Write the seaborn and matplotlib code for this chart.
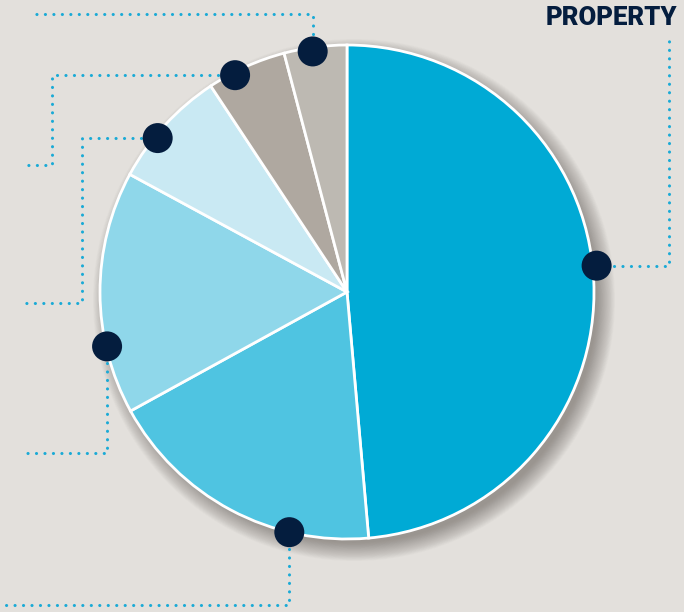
import numpy as np
import matplotlib
matplotlib.use("Agg")
import matplotlib.pyplot as plt
from matplotlib.patches import Circle
import seaborn as sns

# Data (share of portfolio, clockwise from 12 o'clock)
segments = ["Property", "Segment B", "Segment C", "Segment D", "Segment E", "Segment F"]
shares = [48.6, 18.4, 15.9, 7.8, 5.2, 4.1]
colors = ["#00aad5", "#4fc4e1", "#8fd7ea", "#c9e9f3", "#afa8a0", "#bdb9b2"]

# where along each wedge the callout dot sits (fraction of wedge, from its start)
dot_frac = [0.48, 0.28, 0.28, 0.38, 0.33, 0.45]
dot_r = [251, 247, 246, 244, 244, 243]

bg = "#e3e0dc"
navy = "#041d3e"
dotcol = "#1aaad6"

sns.set_theme(style="white")
plt.rcParams["lines.scale_dashes"] = False

W, H = 684, 612
fig = plt.figure(figsize=(W / 100, H / 100), dpi=100, facecolor=bg)
ax = fig.add_axes([0, 0, 1, 1])

def py(y):
    # pixel row -> data y
    return H - y

cx, cy, R = 347, py(292), 247

# soft drop shadow to the lower right
for i in range(24):
    ax.add_patch(Circle((cx + 7, cy - 8), R + 14 - i * 0.8, color="#4f4842",
                        alpha=0.025, lw=0, zorder=1))

wedges, _ = ax.pie(shares, colors=colors, startangle=90, counterclock=False,
                   center=(cx, cy), radius=R, frame=True,
                   wedgeprops=dict(edgecolor="white", linewidth=2))
for w in wedges:
    w.set_zorder(3)
ax.set_xlim(0, W)
ax.set_ylim(0, H)
ax.set_aspect("equal")
ax.axis("off")

# callout dots on the rim
dots = []
for w, f, r in zip(wedges, dot_frac, dot_r):
    a = np.deg2rad(w.theta2 - f * (w.theta2 - w.theta1))
    dots.append((cx + r * np.cos(a), cy + r * np.sin(a)))

# dotted leader lines: first leg direction ('h' or 'v'), then pixel waypoints
routes = [
    ("h", [(669, None), (669, 35)]),
    ("v", [(None, 605), (0, 605)]),
    ("v", [(None, 453), (25, 453)]),
    ("h", [(82, None), (82, 303), (25, 303)]),
    ("h", [(52, None), (52, 165), (25, 165)]),
    ("v", [(None, 14), (30, 14)]),
]
for (dx, dy), (leg, pts) in zip(dots, routes):
    xs, ys = [dx], [dy]
    for px, pyy in pts:
        xs.append(dx if px is None else px)
        ys.append(dy if pyy is None else py(pyy))
    ax.plot(xs, ys, color=dotcol, lw=2.2, ls=(0, (0.1, 6)),
            dash_capstyle="round", zorder=2)

for dx, dy in dots:
    ax.add_patch(Circle((dx, dy), 15, color=navy, lw=0, zorder=5))

ax.text(677, py(18), "PROPERTY", ha="right", va="center", color=navy,
        fontsize=18.5, fontweight="heavy", family=["Roboto", "DejaVu Sans"])

fig.savefig("out.png", dpi=100, facecolor=bg)
